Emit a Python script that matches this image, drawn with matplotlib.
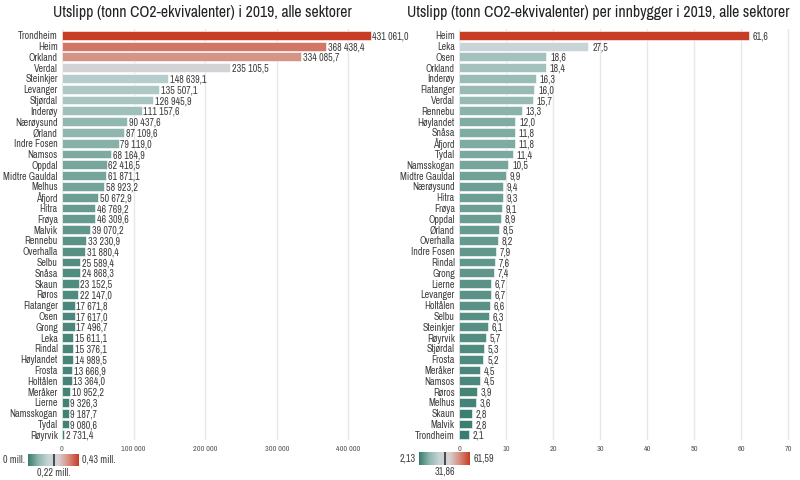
import numpy as np
import matplotlib.pyplot as plt
from matplotlib import font_manager
from matplotlib.colors import LinearSegmentedColormap, TwoSlopeNorm
from matplotlib.ticker import FuncFormatter

navn_fonter = sorted({f.name for f in font_manager.fontManager.ttflist})
smal = [n for n in navn_fonter if 'Narrow' in n or 'Condensed' in n]
plt.rcParams['font.family'] = smal[:1] + ['Lato', 'DejaVu Sans']

# Utslipp totalt (tonn CO2-ekv.) 2019
komm_tot = ['Trondheim', 'Heim', 'Orkland', 'Verdal', 'Steinkjer', 'Levanger', 'Stjørdal',
            'Inderøy', 'Nærøysund', 'Ørland', 'Indre Fosen', 'Namsos', 'Oppdal',
            'Midtre Gauldal', 'Melhus', 'Åfjord', 'Hitra', 'Frøya', 'Malvik', 'Rennebu',
            'Overhalla', 'Selbu', 'Snåsa', 'Skaun', 'Røros', 'Flatanger', 'Osen', 'Grong',
            'Leka', 'Rindal', 'Høylandet', 'Frosta', 'Holtålen', 'Meråker', 'Lierne',
            'Namsskogan', 'Tydal', 'Røyrvik']
utslipp_tot = [431061.0, 368438.4, 334085.7, 235105.5, 148639.1, 135507.1, 126945.9,
               111157.6, 90437.6, 87109.6, 79119.0, 68164.9, 62416.5, 61871.1, 58923.2,
               50672.9, 46769.2, 46309.6, 39070.2, 33230.9, 31880.4, 25589.4, 24868.3,
               23152.5, 22147.0, 17671.8, 17617.0, 17496.7, 15611.1, 15376.1, 14989.5,
               13666.9, 13364.0, 10952.2, 9326.3, 9187.7, 9080.6, 2731.4]

# Utslipp per innbygger
komm_pi = ['Heim', 'Leka', 'Osen', 'Orkland', 'Inderøy', 'Flatanger', 'Verdal', 'Rennebu',
           'Høylandet', 'Snåsa', 'Åfjord', 'Tydal', 'Namsskogan', 'Midtre Gauldal',
           'Nærøysund', 'Hitra', 'Frøya', 'Oppdal', 'Ørland', 'Overhalla', 'Indre Fosen',
           'Rindal', 'Grong', 'Lierne', 'Levanger', 'Holtålen', 'Selbu', 'Steinkjer',
           'Røyrvik', 'Stjørdal', 'Frosta', 'Meråker', 'Namsos', 'Røros', 'Melhus',
           'Skaun', 'Malvik', 'Trondheim']
utslipp_pi = [61.59, 27.5, 18.6, 18.4, 16.3, 16.0, 15.7, 13.3, 12.0, 11.8, 11.8, 11.4,
              10.5, 9.9, 9.4, 9.3, 9.1, 8.9, 8.5, 8.2, 7.9, 7.6, 7.4, 6.7, 6.7, 6.6, 6.3,
              6.1, 5.7, 5.3, 5.2, 4.5, 4.5, 3.9, 3.6, 2.8, 2.8, 2.13]

cmap = LinearSegmentedColormap.from_list(
    'tealred', ['#3a7c6f', '#8fb6af', '#c6d5d8', '#d8d1d3', '#d68c7d', '#c83d26'])

tekst = '#404040'


def fmt_tot(v):
    return f"{v:,.1f}".replace(',', ' ').replace('.', ',')


def fmt_pi(v):
    return f"{v:.1f}".replace('.', ',')


def tegn(ax, navn, verdier, norm, fmt, xmax, ticks, tickfmt, pad):
    y = np.arange(len(navn))
    ax.barh(y, verdier, height=0.82, color=cmap(norm(np.array(verdier))),
            edgecolor='white', linewidth=0.4, zorder=2)
    for yi, v in zip(y, verdier):
        ax.text(v + pad, yi + 0.1, fmt(v), va='center', ha='left', fontsize=7.2,
                color=tekst, zorder=3)
    ax.set_yticks(y)
    ax.set_yticklabels(navn, fontsize=7.2, color=tekst)
    ax.set_ylim(len(navn) - 0.5, -0.6)
    ax.set_xlim(0, xmax)
    ax.set_xticks(ticks)
    ax.xaxis.set_major_formatter(FuncFormatter(tickfmt))
    ax.tick_params(axis='x', labelsize=5.8, colors='#555555', length=0, pad=4)
    ax.tick_params(axis='y', length=0, pad=3)
    ax.grid(axis='x', color='#e8e8e8', linewidth=1, zorder=0)
    for s in ax.spines.values():
        s.set_visible(False)


def legende(fig, x0, y0, w, h, vmin_txt, vmid_txt, vmax_txt):
    lax = fig.add_axes([x0, y0, w, h])
    lax.imshow(np.linspace(0, 1, 200).reshape(1, -1), aspect='auto', cmap=cmap,
               extent=[0, 1, 0, 1])
    lax.axvline(0.5, color='#333333', linewidth=1.2)
    lax.set_axis_off()
    fig.text(x0 - 0.004, y0 + h / 2, vmin_txt, ha='right', va='center', fontsize=7.2,
             color=tekst)
    fig.text(x0 + w + 0.004, y0 + h / 2, vmax_txt, ha='left', va='center', fontsize=7.2,
             color=tekst)
    fig.text(x0 + w / 2, y0 - 0.003, vmid_txt, ha='center', va='top', fontsize=7.2,
             color=tekst)


fig = plt.figure(figsize=(8, 4.8), dpi=100)

ax1 = fig.add_axes([62 / 800, 0.083, (377 - 62) / 800, 0.857])
norm1 = TwoSlopeNorm(vmin=0, vcenter=215530, vmax=431061)
tegn(ax1, komm_tot, utslipp_tot, norm1, fmt_tot, 440000,
     [0, 100000, 200000, 300000, 400000],
     lambda v, p: f"{int(v):,}".replace(',', ' '), 2500)
fig.text(0.253, 1 - 13 / 480, 'Utslipp (tonn CO2-ekvivalenter) i 2019, alle sektorer',
         ha='center', va='center', fontsize=11.3, color='#222222')

ax2 = fig.add_axes([459 / 800, 0.083, (793 - 459) / 800, 0.857])
norm2 = TwoSlopeNorm(vmin=2.13, vcenter=31.86, vmax=61.59)
tegn(ax2, komm_pi, utslipp_pi, norm2, fmt_pi, 71,
     [0, 10, 20, 30, 40, 50, 60, 70], lambda v, p: f"{int(v)}", 0.8)
fig.text(0.748, 1 - 13 / 480,
         'Utslipp (tonn CO2-ekvivalenter) per innbygger i 2019, alle sektorer',
         ha='center', va='center', fontsize=11.3, color='#222222')

legende(fig, 28 / 800, 1 - 466 / 480, 51 / 800, 12 / 480, '0 mill.', '0,22 mill.',
        '0,43 mill.')
legende(fig, 419 / 800, 1 - 465 / 480, 51 / 800, 13 / 480, '2,13', '31,86', '61,59')

fig.savefig('out.png', dpi=100)
